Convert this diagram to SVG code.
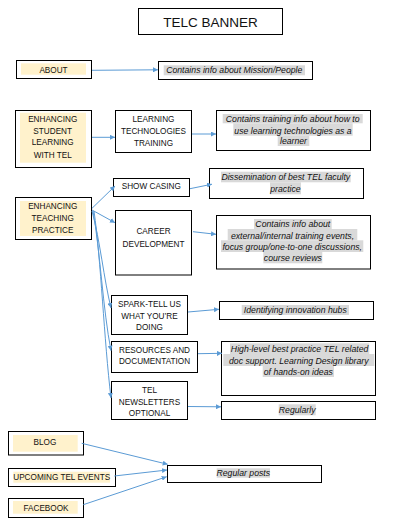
<svg xmlns="http://www.w3.org/2000/svg" width="403" height="531" viewBox="0 0 403 531">
<defs>
<style>
.box{fill:#fff;stroke:#000;stroke-width:1}
.yel{fill:#fff2cc}
.hl{fill:#d9d9d9}
.t{font-family:"Liberation Sans",Arial,sans-serif;font-size:8.2px;fill:#111;text-anchor:middle}
.i{font-family:"Liberation Sans",Arial,sans-serif;font-size:8.7px;font-style:italic;fill:#111;text-anchor:middle}
.title{font-family:"Liberation Sans",Arial,sans-serif;font-size:13.5px;fill:#111;text-anchor:middle}
.c{fill:none;stroke:#5b9bd5;stroke-width:1}
</style>
<marker id="ah" viewBox="0 0 10 10" refX="10" refY="5" markerWidth="5" markerHeight="5" orient="auto" markerUnits="userSpaceOnUse">
<path d="M0,0 L10,5 L0,10 z" fill="#5b9bd5"/>
</marker>
</defs>
<rect width="403" height="531" fill="#fff"/>

<g id="title">
<rect class="box" x="138.5" y="8.5" width="144" height="26"/>
<text class="title" x="210.5" y="26.5">TELC BANNER</text>
</g>

<g id="about">
<rect class="box" x="16.5" y="60.5" width="75" height="18"/>
<rect class="yel" x="21" y="63.3" width="65" height="11.4"/>
<text class="t" x="53.5" y="72.5">ABOUT</text>
</g>
<g id="mission">
<rect class="box" x="158.5" y="61.5" width="154" height="18"/>
<rect class="hl" x="163.7" y="65.3" width="141.3" height="10"/>
<text class="i" x="234.3" y="73.4">Contains info about Mission/People</text>
</g>

<g id="enhancing-student">
<rect class="box" x="15.5" y="110.5" width="76" height="57"/>
<rect class="yel" x="20" y="112.7" width="66" height="50"/>
<text class="t" x="52.7" y="121.5">ENHANCING</text>
<text class="t" x="52.7" y="133.5">STUDENT</text>
<text class="t" x="52.7" y="144.5">LEARNING</text>
<text class="t" x="52.7" y="157.5">WITH TEL</text>
</g>
<g id="lt-training">
<rect class="box" x="115.5" y="110.5" width="76" height="42"/>
<text class="t" x="153.5" y="121.5">LEARNING</text>
<text class="t" x="153.5" y="133.5">TECHNOLOGIES</text>
<text class="t" x="153.5" y="145.5">TRAINING</text>
</g>
<g id="training-info">
<rect class="box" x="216.5" y="110.5" width="154" height="40"/>
<rect class="hl" x="222.7" y="114" width="140" height="9.3"/>
<rect class="hl" x="233.3" y="123.3" width="119.4" height="12.4"/>
<rect class="hl" x="277.7" y="135.7" width="31.6" height="10.3"/>
<text class="i" x="292.7" y="121.7">Contains training info about how to</text>
<text class="i" x="293" y="133.5">use learning technologies as a</text>
<text class="i" x="293.5" y="144.2">learner</text>
</g>

<g id="enhancing-teaching">
<rect class="box" x="15.5" y="197.5" width="76" height="42"/>
<rect class="yel" x="20" y="201" width="66" height="35"/>
<text class="t" x="52.7" y="209">ENHANCING</text>
<text class="t" x="52.7" y="221">TEACHING</text>
<text class="t" x="52.7" y="233">PRACTICE</text>
</g>
<g id="showcasing">
<rect class="box" x="113.5" y="178.5" width="76" height="18"/>
<text class="t" x="151.3" y="189">SHOW CASING</text>
</g>
<g id="dissemination">
<rect class="box" x="209.5" y="168.5" width="154" height="30"/>
<rect class="hl" x="221" y="171.7" width="129.7" height="10.6"/>
<rect class="hl" x="270" y="182.3" width="31" height="12"/>
<text class="i" x="285.8" y="180">Dissemination of best TEL faculty</text>
<text class="i" x="285.5" y="191.7">practice</text>
</g>
<g id="career">
<rect class="box" x="115.5" y="210.5" width="76" height="64.5"/>
<text class="t" x="153.5" y="233.5">CAREER</text>
<text class="t" x="153.5" y="246.5">DEVELOPMENT</text>
</g>
<g id="career-info">
<rect class="box" x="216.5" y="215.5" width="154" height="53.5"/>
<rect class="hl" x="254" y="219" width="77.7" height="10"/>
<rect class="hl" x="227.7" y="229" width="129.6" height="11.3"/>
<rect class="hl" x="221" y="240.3" width="142.3" height="11.7"/>
<rect class="hl" x="263.3" y="252" width="59" height="11.3"/>
<text class="i" x="292.8" y="227.2">Contains info about</text>
<text class="i" x="292.5" y="238.5">external/internal training events,</text>
<text class="i" x="292.2" y="249.8">focus group/one-to-one discussions,</text>
<text class="i" x="292.8" y="261.2">course reviews</text>
</g>

<g id="spark">
<rect class="box" x="111.5" y="295.5" width="76" height="39"/>
<text class="t" x="149.5" y="307">SPARK-TELL US</text>
<text class="t" x="149.5" y="318.5">WHAT YOU’RE</text>
<text class="t" x="149.5" y="329.7">DOING</text>
</g>
<g id="innovation">
<rect class="box" x="219.5" y="301.5" width="154" height="18"/>
<rect class="hl" x="241.7" y="305" width="107.3" height="10"/>
<text class="i" x="295.3" y="313.2">Identifying innovation hubs</text>
</g>

<g id="resources">
<rect class="box" x="111.5" y="341.5" width="86" height="31"/>
<text class="t" x="154.5" y="352.8">RESOURCES AND</text>
<text class="t" x="154.5" y="364">DOCUMENTATION</text>
</g>
<g id="highlevel">
<rect class="box" x="221.5" y="341.5" width="154" height="54"/>
<rect class="hl" x="230" y="343.3" width="139.3" height="10.7"/>
<rect class="hl" x="223.3" y="354" width="151" height="12"/>
<rect class="hl" x="262.7" y="366" width="71.3" height="11"/>
<text class="i" x="299.6" y="352">High-level best practice  TEL related</text>
<text class="i" x="298.8" y="363.7">doc support. Learning Design library</text>
<text class="i" x="298.3" y="375.2">of hands-on ideas</text>
</g>

<g id="newsletters">
<rect class="box" x="111.5" y="381.5" width="76" height="38"/>
<text class="t" x="149.5" y="392.5">TEL</text>
<text class="t" x="149.5" y="404.5">NEWSLETTERS</text>
<text class="t" x="149.5" y="415.8">OPTIONAL</text>
</g>
<g id="regularly">
<rect class="box" x="221.5" y="401.5" width="154" height="18"/>
<rect class="hl" x="278.7" y="404.3" width="37" height="11"/>
<text class="i" x="297.2" y="413.2">Regularly</text>
</g>

<g id="blog">
<rect class="box" x="8.5" y="431.5" width="75" height="23.5"/>
<rect class="yel" x="13" y="435" width="64.7" height="16.7"/>
<text class="t" x="45" y="445">BLOG</text>
</g>
<g id="upcoming">
<rect class="box" x="8.5" y="468.5" width="107" height="18"/>
<rect class="yel" x="13.3" y="471.7" width="96.7" height="11"/>
<text class="t" x="61.7" y="480">UPCOMING TEL EVENTS</text>
</g>
<g id="facebook">
<rect class="box" x="8.5" y="498.5" width="75" height="19"/>
<rect class="yel" x="13" y="501" width="64.7" height="12.7"/>
<text class="t" x="46" y="511">FACEBOOK</text>
</g>
<g id="regular-posts">
<rect class="box" x="167.5" y="465.5" width="154" height="17"/>
<rect class="hl" x="216.7" y="468.3" width="53.3" height="9.4"/>
<text class="i" x="243.3" y="476">Regular posts</text>
</g>

<g id="connectors">
<path class="c" d="M92,70.3 L158,69.8" marker-end="url(#ah)"/>
<path class="c" d="M92,137.3 L115,137.3" marker-end="url(#ah)"/>
<path class="c" d="M192,134 L216,134" marker-end="url(#ah)"/>
<path class="c" d="M190,188.7 L212,184.2" marker-end="url(#ah)"/>
<path class="c" d="M92,208.3 L115,186" marker-end="url(#ah)"/>
<path class="c" d="M92,210 L115,222.7" marker-end="url(#ah)"/>
<path class="c" d="M193,231.7 L216,234.3" marker-end="url(#ah)"/>
<path class="c" d="M92,211 C100,240 104,280 111,308" marker-end="url(#ah)"/>
<path class="c" d="M93,211 C100,250 103,310 111,350.7" marker-end="url(#ah)"/>
<path class="c" d="M94,211 C101,260 104,340 111,398" marker-end="url(#ah)"/>
<path class="c" d="M188,312 L219,309.3" marker-end="url(#ah)"/>
<path class="c" d="M198,353.7 L222,353.3" marker-end="url(#ah)"/>
<path class="c" d="M188,406.5 L221,406.8" marker-end="url(#ah)"/>
<path class="c" d="M81.7,443.3 L167.7,464.3" marker-end="url(#ah)"/>
<path class="c" d="M114.3,476 L167,470" marker-end="url(#ah)"/>
<path class="c" d="M83.3,504.7 L166.7,476.7" marker-end="url(#ah)"/>
</g>
</svg>
